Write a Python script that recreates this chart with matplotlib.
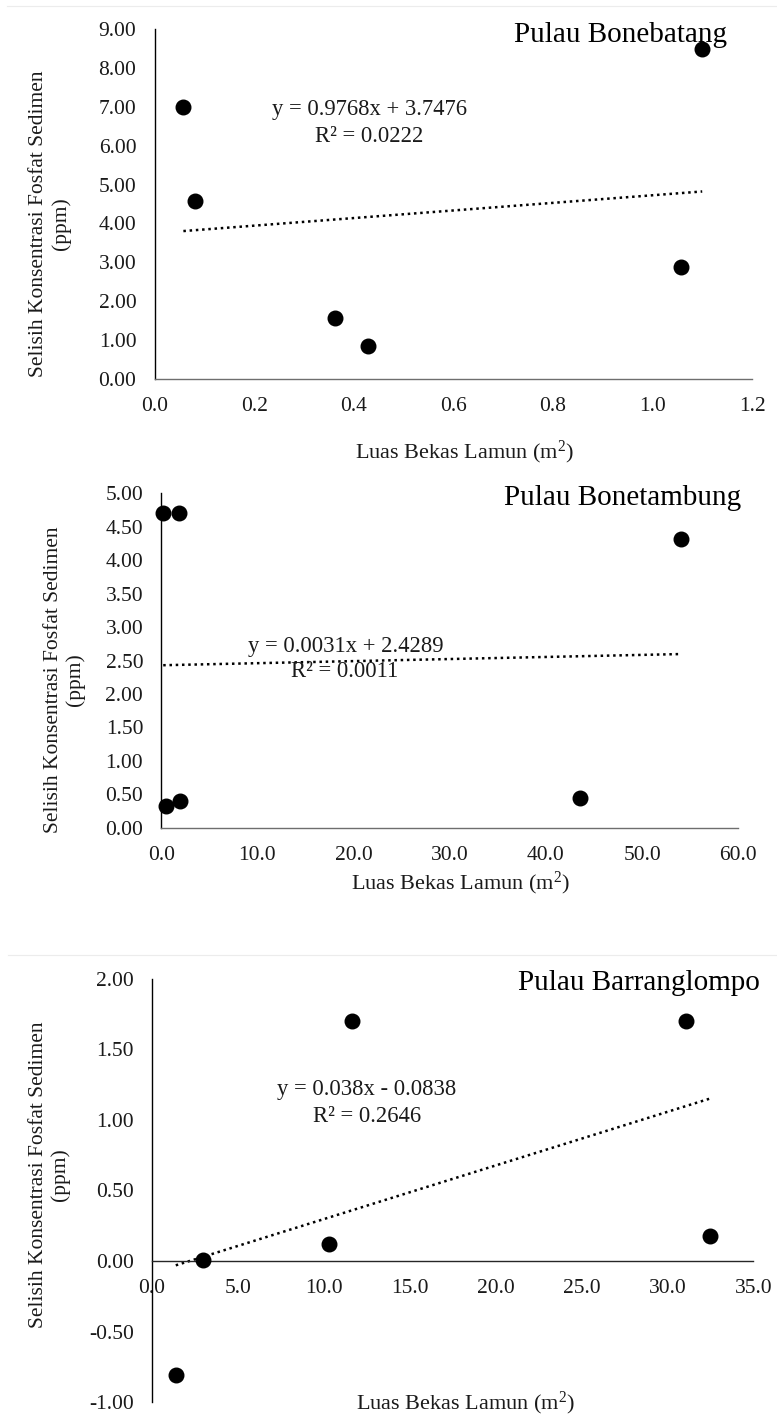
import matplotlib
matplotlib.use("Agg")
import matplotlib.pyplot as plt
from matplotlib.lines import Line2D
import numpy as np

plt.rcParams['font.family'] = ['Liberation Serif', 'DejaVu Serif']
plt.rcParams['mathtext.fontset'] = 'custom'
plt.rcParams['mathtext.rm'] = 'Liberation Serif'
plt.rcParams['mathtext.it'] = 'Liberation Serif:italic'

# ---------------- data ----------------
titles = ["Pulau Bonebatang", "Pulau Bonetambung", "Pulau Barranglompo"]

x1 = [0.058, 0.081, 0.362, 0.429, 1.057, 1.100]
y1 = [7.00, 4.59, 1.58, 0.86, 2.89, 8.48]
slope1, icpt1, r2_1 = 0.9768, 3.7476, 0.0222

x2 = [0.2, 1.84, 0.46, 1.94, 43.57, 54.0]
y2 = [4.71, 4.71, 0.33, 0.40, 0.45, 4.31]
slope2, icpt2, r2_2 = 0.0031, 2.4289, 0.0011

x3 = [1.40, 3.0, 10.31, 11.63, 31.08, 32.48]
y3 = [-0.81, 0.01, 0.12, 1.70, 1.70, 0.18]
slope3, icpt3, r2_3 = 0.038, -0.0838, 0.2646

eq_texts = [("y = 0.9768x + 3.7476", "R² = 0.0222"),
            ("y = 0.0031x + 2.4289", "R² = 0.0011"),
            ("y = 0.038x - 0.0838", "R² = 0.2646")]

xticks = [np.arange(0, 1.21, 0.2), np.arange(0, 60.1, 10), np.arange(0, 35.1, 5)]
yticks = [np.arange(0, 9.01, 1), np.arange(0, 5.01, 0.5), np.arange(-1, 2.01, 0.5)]
xlims = [(0, 1.2), (0, 60), (0, 35)]
ylims = [(0, 9), (0, 5), (-1, 2)]
xfmt = ["{:.1f}", "{:.1f}", "{:.1f}"]
yfmt = ["{:.2f}", "{:.2f}", "{:.2f}"]

ylabel = "Selisih Konsentrasi Fosfat Sedimen\n(ppm)"
xlabel = "Luas Bekas Lamun (m$^{2}$)"

# ---------------- layout (pixels) ----------------
W, H = 777, 1416
fig = plt.figure(figsize=(W / 100, H / 100), dpi=100)

def fx(px):
    return px / W

def fy(py):
    return 1 - py / H

boxes = [(154.5, 752, 29, 379), (161.3, 738.3, 493.3, 827.7), (151.7, 753.3, 978.6, 1402.2)]
title_pos = [(727, 42), (741, 505), (760, 990)]
eq_pos = [((369, 115), (369, 141.7)), ((346, 651.7), (345, 676.7)), ((367, 1095), (367.5, 1121.7))]
ylab_pos = [(50, 224), (64.5, 680), (49.5, 1175)]
xlab_pos = [(465, 452), (461, 883), (466, 1403)]
xspine_col = ['#6e6e6e', '#6e6e6e', '#262626']

FS = 15.5
FS_EQ = 16.3
FS_XL = 16
TXT = '#1a1a1a'
datasets = [(x1, y1, slope1, icpt1), (x2, y2, slope2, icpt2), (x3, y3, slope3, icpt3)]

for i, (xs, ys, sl, ic) in enumerate(datasets):
    l, r, t, b = boxes[i]
    ax = fig.add_axes([fx(l), fy(b), (r - l) / W, (b - t) / H])
    ax.set_xlim(*xlims[i])
    ax.set_ylim(*ylims[i])
    for s in ['top', 'right']:
        ax.spines[s].set_visible(False)
    ax.spines['left'].set_color('black')
    ax.spines['left'].set_linewidth(1.0)
    ax.spines['bottom'].set_color(xspine_col[i])
    ax.spines['bottom'].set_linewidth(1.0)
    if i == 2:
        ax.spines['bottom'].set_position(('data', 0))
    ax.set_xticks(xticks[i])
    ax.set_xticklabels([xfmt[i].format(v) for v in xticks[i]])
    ax.set_yticks(yticks[i])
    ax.set_yticklabels([yfmt[i].format(v) for v in yticks[i]])
    ax.tick_params(axis='both', length=0, labelsize=FS, colors=TXT, pad=13)
    ax.patch.set_alpha(0)

    # trendline
    xx = np.array([min(xs), max(xs)])
    ax.plot(xx, sl * xx + ic, color='black', lw=1.8,
            linestyle=(0, (1, 1.5)), dash_capstyle='butt', zorder=2)
    # points
    ax.scatter(xs, ys, s=110, color='black', zorder=3, clip_on=False)

    # texts
    tx, ty = title_pos[i]
    fig.text(fx(tx), fy(ty), titles[i], ha='right', va='baseline', fontsize=21, color='black')
    (e1x, e1y), (e2x, e2y) = eq_pos[i]
    fig.text(fx(e1x), fy(e1y), eq_texts[i][0], ha='center', va='baseline', fontsize=FS_EQ, color=TXT)
    fig.text(fx(e2x), fy(e2y), eq_texts[i][1], ha='center', va='baseline', fontsize=FS_EQ, color=TXT)
    yx, yy = ylab_pos[i]
    fig.text(fx(yx), fy(yy), ylabel, rotation=90, ha='center', va='center',
             multialignment='center', fontsize=FS, color=TXT, linespacing=1.2)
    lx, ly = xlab_pos[i]
    fig.text(fx(lx), fy(ly), xlabel, ha='center', va='center', fontsize=FS_XL, color=TXT)

# faint chart borders
for py, px0 in [(6, 7), (955, 8)]:
    fig.add_artist(Line2D([fx(px0), 1.0], [fy(py), fy(py)], color='#ececec', lw=0.8))

fig.savefig("out.png", dpi=100)
